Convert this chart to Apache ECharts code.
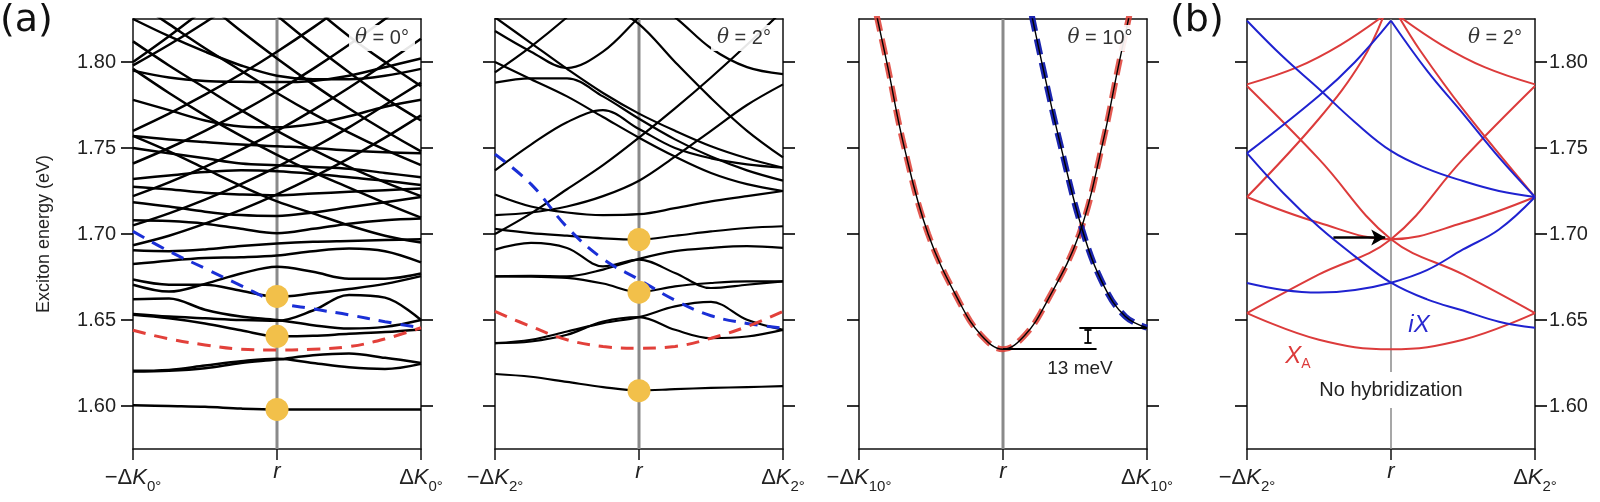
<!DOCTYPE html>
<html><head><meta charset="utf-8">
<script src="https://cdn.jsdelivr.net/npm/echarts@6/dist/echarts.min.js"></script>
<style>html,body{margin:0;padding:0;background:#fff}#c{width:1600px;height:502px}</style>
</head><body><div id="c"></div>
<script>
// ---------- data ----------
const xGrid = [-1,-0.75,-0.5,-0.25,0,0.25,0.5,0.75,1];
const yTicks = [1.60,1.65,1.70,1.75,1.80];
const panelAngles = ['0°','2°','10°','2°'];

// panel (a) θ=0°, black bands (energy at xGrid)
const bands0 = [
 [1.6005,1.600,1.5995,1.5985,1.598,1.598,1.598,1.598,1.598],
 [1.620,1.6205,1.622,1.625,1.627,1.6295,1.6305,1.628,1.625],
 [1.6205,1.621,1.6235,1.626,1.6275,1.625,1.6225,1.6215,1.6245],
 [1.653,1.651,1.648,1.644,1.6405,1.6408,1.642,1.643,1.6445],
 [1.6535,1.652,1.651,1.650,1.6495,1.6555,1.6645,1.663,1.650],
 [1.662,1.6625,1.656,1.652,1.650,1.647,1.645,1.646,1.650],
 [1.6735,1.6705,1.6705,1.667,1.6635,1.6655,1.668,1.671,1.6755],
 [1.6705,1.6665,1.671,1.677,1.681,1.678,1.674,1.674,1.677],
 [1.6825,1.6845,1.686,1.6865,1.6875,1.690,1.6915,1.690,1.6835],
 [1.6905,1.690,1.691,1.693,1.6945,1.6955,1.696,1.6965,1.697],
 [1.836,1.822,1.808,1.795,1.782,1.770,1.759,1.749,1.740],
 [1.812,1.798,1.785,1.772,1.760,1.749,1.739,1.730,1.722],
 [1.796,1.782,1.769,1.757,1.746,1.736,1.727,1.718,1.7095],
 [1.870,1.852,1.835,1.818,1.802,1.787,1.773,1.760,1.748],
 [1.905,1.884,1.864,1.845,1.827,1.810,1.794,1.779,1.766],
 [1.757,1.748,1.738,1.728,1.719,1.712,1.705,1.699,1.695],
 [1.705,1.712,1.720,1.729,1.739,1.750,1.762,1.775,1.788],
 [1.722,1.730,1.739,1.749,1.760,1.772,1.785,1.799,1.8135],
 [1.741,1.750,1.760,1.771,1.783,1.796,1.810,1.825,1.841],
 [1.760,1.770,1.781,1.793,1.806,1.820,1.835,1.851,1.868],
 [1.798,1.810,1.823,1.837,1.852,1.868,1.885,1.903,1.922],
 [1.6935,1.699,1.706,1.714,1.723,1.733,1.744,1.756,1.769],
 [1.800,1.815,1.831,1.848,1.866,1.885,1.905,1.925,1.946],
 [1.940,1.915,1.892,1.870,1.850,1.832,1.815,1.800,1.786],
 [1.795,1.791,1.789,1.7885,1.7883,1.789,1.792,1.797,1.802],
 [1.778,1.772,1.766,1.7625,1.762,1.764,1.7685,1.774,1.778],
 [1.757,1.755,1.7535,1.752,1.751,1.750,1.7485,1.7475,1.747],
 [1.750,1.747,1.744,1.741,1.740,1.739,1.738,1.7355,1.733],
 [1.732,1.734,1.736,1.737,1.7365,1.735,1.733,1.731,1.7285],
 [1.7275,1.726,1.724,1.723,1.7225,1.7235,1.7245,1.7255,1.7265],
 [1.708,1.7075,1.706,1.703,1.7005,1.703,1.706,1.708,1.709],
 [1.7185,1.716,1.713,1.711,1.7105,1.7125,1.7155,1.7185,1.7215],
 [1.825,1.815,1.806,1.798,1.792,1.790,1.790,1.792,1.796]
];
const blueDash0 = [1.7015,1.690,1.680,1.670,1.6605,1.6565,1.653,1.649,1.6455];
const redDash0  = [1.644,1.639,1.6355,1.633,1.6325,1.633,1.6345,1.639,1.6455];
const dots0 = [1.6637,1.6405,1.598];

// panel θ=2° black bands
const bands2 = [
 [1.6186,1.617,1.614,1.611,1.609,1.6098,1.6105,1.611,1.6115],
 [1.6365,1.6385,1.6433,1.6482,1.6517,1.6579,1.6605,1.6501,1.6443],
 [1.6365,1.6375,1.6414,1.6491,1.6517,1.6443,1.6394,1.6404,1.6443],
 [1.6754,1.6752,1.6745,1.6712,1.6662,1.6696,1.6715,1.6725,1.6725],
 [1.6754,1.6756,1.6754,1.6793,1.6855,1.690,1.6919,1.6929,1.6919],
 [1.6909,1.6948,1.6919,1.6812,1.6851,1.6773,1.6686,1.6705,1.6725],
 [1.703,1.7005,1.699,1.6975,1.6968,1.699,1.7015,1.7035,1.7045],
 [1.826,1.811,1.796,1.782,1.770,1.760,1.751,1.744,1.7385],
 [1.794,1.809,1.826,1.845,1.865,1.885,1.905,1.925,1.945],
 [1.818,1.806,1.7965,1.806,1.826,1.846,1.866,1.886,1.906],
 [1.788,1.7905,1.7905,1.780,1.767,1.755,1.745,1.737,1.731],
 [1.737,1.752,1.765,1.772,1.761,1.750,1.744,1.7405,1.7386],
 [1.700,1.712,1.726,1.740,1.756,1.773,1.791,1.810,1.830],
 [1.800,1.790,1.780,1.768,1.756,1.745,1.7355,1.729,1.725],
 [1.900,1.870,1.850,1.835,1.822,1.800,1.779,1.760,1.7445],
 [1.950,1.920,1.890,1.860,1.840,1.826,1.808,1.797,1.793],
 [1.711,1.7125,1.716,1.722,1.731,1.745,1.760,1.775,1.787],
 [1.723,1.716,1.7125,1.711,1.7115,1.715,1.719,1.722,1.725]
];
const blueDash2 = [1.7464,1.729,1.704,1.6855,1.6735,1.6615,1.6525,1.648,1.6453];
const redDash2  = [1.655,1.6462,1.6385,1.6346,1.6336,1.6346,1.6394,1.6462,1.655];
const dots2 = [1.6968,1.6662,1.6089];

// panel θ=10°
const red10  = [[-0.877,1.827],[-0.8,1.797],[-0.69,1.752],[-0.52,1.700],[-0.3,1.660],[-0.15,1.641],[0,1.633],[0.15,1.641],[0.3,1.660],[0.53,1.700],[0.69,1.752],[0.8,1.797],[0.877,1.827]];
const blue10 = [[0.2,1.827],[0.3,1.788],[0.39,1.755],[0.55,1.7026],[0.7,1.670],[0.85,1.652],[1,1.6455]];
const gapLines10 = [[[0,1.633],[0.65,1.633]],[[0.53,1.6455],[1,1.6455]],[[0.59,1.6443],[0.59,1.6367]],[[0.565,1.6443],[0.615,1.6443]],[[0.565,1.6367],[0.615,1.6367]]];

// panel (b) no hybridization
const redB = [
 [[-1,1.654],[-0.5,1.6385],[0,1.633],[0.5,1.6385],[1,1.654]],
 [[-1,1.654],[-0.5,1.6765],[0,1.697],[0.5,1.7435],[1,1.786]],
 [[-1,1.786],[-0.5,1.7435],[0,1.697],[0.5,1.6765],[1,1.654]],
 [[-1,1.7215],[-0.5,1.7065],[0,1.697],[0.5,1.7065],[1,1.7215]],
 [[-1,1.7215],[-0.5,1.767],[-0.2,1.801],[-0.05,1.827]],
 [[1,1.7215],[0.5,1.7726],[0.2,1.807],[0.05,1.827]],
 [[0.05,1.827],[0.35,1.81],[0.65,1.797],[1,1.787]],
 [[-1,1.787],[-0.65,1.797],[-0.35,1.81],[-0.05,1.827]]
];
const blueB = [
 [[-1,1.824],[-0.75,1.803],[-0.5,1.7843],[-0.25,1.765],[0,1.7483],[0.25,1.738],[0.5,1.7308],[0.75,1.725],[1,1.7215]],
 [[-1,1.747],[-0.5,1.7804],[-0.25,1.800],[0,1.824]],
 [[0,1.824],[0.25,1.795],[0.5,1.770],[0.75,1.7445],[1,1.7215]],
 [[-1,1.747],[-0.75,1.724],[-0.5,1.704],[-0.25,1.687],[0,1.6717],[0.25,1.662],[0.5,1.6555],[0.75,1.649],[1,1.6455]],
 [[-1,1.6715],[-0.75,1.6675],[-0.5,1.666],[-0.25,1.6675],[0,1.6717],[0.25,1.679],[0.5,1.691],[0.75,1.7026],[1,1.7215]]
];
const arrowB = [[-0.4,1.698],[-0.04,1.698]];

// ---------- chart ----------
const FONT = '"Liberation Sans", Arial, Helvetica, sans-serif';
const chart = echarts.init(document.getElementById('c'), null, {renderer:'canvas', width:1600, height:502});
const gridLefts = [133, 495, 859, 1247];
const grids = gridLefts.map(l => ({left:l, top:19, width:288, height:430}));
const xAxes = [], yAxes = [], series = [];
const BLK = '#111';
gridLefts.forEach((l, i) => {
  const sub = panelAngles[i];
  xAxes.push({type:'value', gridIndex:i, min:-1, max:1, interval:1, position:'bottom',
    axisLine:{onZero:false, lineStyle:{color:BLK, width:1.5}}, splitLine:{show:false},
    axisTick:{length:11, lineStyle:{color:BLK, width:1.5}},
    axisLabel:{margin:12, color:'#222', fontFamily:FONT, hideOverlap:false,
      formatter: v => v === 0 ? '{k|r}' : (v < 0 ? '{m|−Δ}{k|K}{s|' + sub + '}' : '{m|Δ}{k|K}{s|' + sub + '}'),
      rich:{m:{fontSize:22, fontFamily:FONT, color:'#222'}, k:{fontSize:22, fontStyle:'italic', fontFamily:FONT, color:'#222'}, s:{fontSize:15, fontFamily:FONT, color:'#222', padding:[18,0,0,0]}}}});
  xAxes.push({type:'value', gridIndex:i, min:-1, max:1, position:'top',
    axisLine:{onZero:false, lineStyle:{color:BLK, width:1.5}}, axisTick:{show:false}, axisLabel:{show:false}, splitLine:{show:false}});
  yAxes.push({type:'value', gridIndex:i, min:1.575, max:1.825, position:'left',
    axisLine:{show:true, onZero:false, lineStyle:{color:BLK, width:1.5}}, splitLine:{show:false},
    axisTick:{show:false},
    axisLabel:{show:i===0, customValues:yTicks, margin:17, fontSize:20, color:'#222', fontFamily:FONT, formatter: v => v.toFixed(2)},
    name: i===0 ? 'Exciton energy (eV)' : '', nameLocation:'middle', nameGap:80,
    nameTextStyle:{fontSize:18, color:'#222', fontFamily:FONT}});
  yAxes.push({type:'value', gridIndex:i, min:1.575, max:1.825, position:'right',
    axisLine:{show:true, onZero:false, lineStyle:{color:BLK, width:1.5}}, splitLine:{show:false},
    axisTick:{show:false},
    axisLabel:{show:i===3, customValues:yTicks, margin:14, fontSize:20, color:'#222', fontFamily:FONT, formatter: v => v.toFixed(2)}});
  // grey vertical line at r
  series.push({type:'line', xAxisIndex:2*i, yAxisIndex:2*i, data:[[0,1.575],[0,1.825]], showSymbol:false, silent:true,
    lineStyle:{color:'#8a8a8a', width: i===3 ? 1.5 : 3}, z:1});
  // outward y ticks on both sides, anchored at the frame through the axis scale
  series.push({type:'scatter', xAxisIndex:2*i, yAxisIndex:2*i, clip:false, silent:true, z:6,
    symbol:'rect', symbolSize:[12,2], symbolOffset:[-6,0], itemStyle:{color:'#000'},
    data: yTicks.map(v => [-1, v])});
  series.push({type:'scatter', xAxisIndex:2*i, yAxisIndex:2*i, clip:false, silent:true, z:6,
    symbol:'rect', symbolSize:[12,2], symbolOffset:[6,0], itemStyle:{color:'#000'},
    data: yTicks.map(v => [1, v])});
});

function addBands(bands, gi, width) {
  bands.forEach(b => series.push({type:'line', xAxisIndex:2*gi, yAxisIndex:2*gi, smooth:0.35, showSymbol:false, silent:true,
    data: xGrid.map((x, k) => [x, b[k]]), lineStyle:{color:'#000', width:width}, z:2}));
}
function addDash(vals, gi, color) {
  series.push({type:'line', xAxisIndex:2*gi, yAxisIndex:2*gi, smooth:0.4, showSymbol:false, silent:true,
    data: xGrid.map((x, k) => [x, vals[k]]), lineStyle:{color:color, width:3, type:[13,9]}, z:3});
}
function addDots(vals, gi) {
  series.push({type:'scatter', xAxisIndex:2*gi, yAxisIndex:2*gi, symbolSize:23, silent:true,
    data: vals.map(v => [0, v]), itemStyle:{color:'#f2c04a', opacity:1}, z:4});
}
addBands(bands0, 0, 2.5);
addDash(blueDash0, 0, '#1a2fd6');
addDash(redDash0, 0, '#e2403a');
addDots(dots0, 0);
addBands(bands2, 1, 2.2);
addDash(blueDash2, 1, '#1a2fd6');
addDash(redDash2, 1, '#e2403a');
addDots(dots2, 1);

// panel 3
[red10, blue10].forEach(d => series.push({type:'line', xAxisIndex:4, yAxisIndex:4, smooth:0.4, showSymbol:false, silent:true,
  data:d, lineStyle:{color:'#000', width:1.4}, z:3}));
series.push({type:'line', xAxisIndex:4, yAxisIndex:4, smooth:0.4, showSymbol:false, silent:true,
  data:red10, lineStyle:{color:'rgba(222,60,50,0.85)', width:6, type:[16,8]}, z:2});
series.push({type:'line', xAxisIndex:4, yAxisIndex:4, smooth:0.4, showSymbol:false, silent:true,
  data:blue10, lineStyle:{color:'rgba(15,25,170,0.95)', width:6, type:[16,8]}, z:2});
series.push({type:'line', xAxisIndex:4, yAxisIndex:4, data:[], silent:true,
  markLine:{silent:true, symbol:['none','none'], label:{show:false}, animation:false,
    lineStyle:{color:'#000', width:1.8, type:'solid'},
    data: gapLines10.map(s => [{coord:s[0]}, {coord:s[1]}])}});

// panel (b)
redB.forEach(d => series.push({type:'line', xAxisIndex:6, yAxisIndex:6, smooth:0.4, showSymbol:false, silent:true,
  data:d, lineStyle:{color:'#dc3b3b', width:2}, z:2}));
blueB.forEach(d => series.push({type:'line', xAxisIndex:6, yAxisIndex:6, smooth:0.4, showSymbol:false, silent:true,
  data:d, lineStyle:{color:'#1f22d0', width:2}, z:3}));
series.push({type:'line', xAxisIndex:6, yAxisIndex:6, data:[], silent:true,
  markLine:{silent:true, symbol:['none','arrow'], symbolSize:[12,14], label:{show:false}, animation:false,
    lineStyle:{color:'#000', width:2.5, type:'solid'},
    data:[[{coord:arrowB[0]},{coord:arrowB[1]}]]}, z:5});

const thetaPos = [[382,38],[744,38],[1100,38],[1495,38]];
const graphics = thetaPos.map((p, i) => ({type:'text', x:p[0], y:p[1], z:100,
  style:{text:'{i|θ} = ' + panelAngles[i], rich:{i:{fontStyle:'italic', fontSize:20, fontFamily:'"DejaVu Serif", serif', fill:'#333'}},
    fontSize:20, fontFamily:FONT, fill:'#333', align:'center', verticalAlign:'middle',
    backgroundColor:'rgba(255,255,255,0.9)', padding:[3,6]}}));
graphics.push({type:'text', x:0, y:2, style:{text:'(a)', fontSize:38, fontFamily:'"DejaVu Sans", sans-serif', fill:'#111'}});
graphics.push({type:'text', x:1170, y:2, style:{text:'(b)', fontSize:38, fontFamily:'"DejaVu Sans", sans-serif', fill:'#111'}});
graphics.push({type:'text', x:1080, y:369, z:100, style:{text:'13 meV', fontSize:19, fontFamily:FONT, fill:'#222', align:'center', verticalAlign:'middle'}});
graphics.push({type:'text', x:1391, y:390, z:100, style:{text:'No hybridization', fontSize:20, fontFamily:FONT, fill:'#222', align:'center', verticalAlign:'middle', backgroundColor:'#fff', padding:[8,2]}});
graphics.push({type:'text', x:1298, y:356, z:100, style:{text:'{x|X}{s|A}', rich:{x:{fontSize:24, fontStyle:'italic', fontFamily:FONT, fill:'#dc3b3b'}, s:{fontSize:14, fontFamily:FONT, fill:'#dc3b3b', padding:[16,0,0,0]}}, align:'center', verticalAlign:'middle'}});
graphics.push({type:'text', x:1419, y:325, z:100, style:{text:'iX', fontSize:24, fontStyle:'italic', fontFamily:FONT, fill:'#2a2ad0', align:'center', verticalAlign:'middle'}});

chart.setOption({animation:false, backgroundColor:'#fff', grid:grids, xAxis:xAxes, yAxis:yAxes, series:series, graphic:graphics});
</script></body></html>
